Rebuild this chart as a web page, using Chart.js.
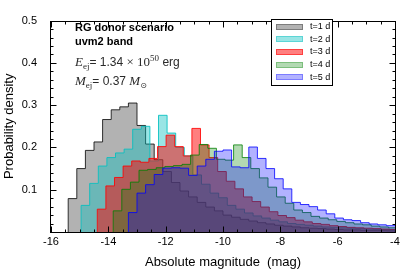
<!DOCTYPE html>
<html>
<head>
<meta charset="utf-8">
<script src="https://cdn.jsdelivr.net/npm/chart.js@4.4.1/dist/chart.umd.min.js"></script>
<style>
  html, body { margin: 0; padding: 0; background: #fff; }
</style>
</head>
<body>
<canvas id="myChart" width="408" height="274"></canvas>
<script>
// histogram data: each series has its own first bin edge, all bins 0.3 mag wide
const binWidth = 0.3;
const epochLabels = ['t=1 d', 't=2 d', 't=3 d', 't=4 d', 't=5 d'];
const binStarts = [-15.4, -14.95, -14.385, -13.83, -13.3];

const density1d = [0.079, 0.150, 0.193, 0.213, 0.266, 0.289, 0.296, 0.305, 0.252, 0.208,
  0.171, 0.143, 0.117, 0.097, 0.083, 0.070, 0.059, 0.050, 0.040, 0.035,
  0.030, 0.026, 0.022, 0.019, 0.016, 0.014, 0.012, 0.010, 0.009, 0.008,
  0.007, 0.006, 0.005, 0.005, 0.004, 0.004, 0.004, 0.003];
const density2d = [0.063, 0.115, 0.156, 0.176, 0.187, 0.196, 0.243, 0.250, 0.168, 0.276,
  0.234, 0.200, 0.180, 0.135, 0.113, 0.092, 0.081, 0.063, 0.054, 0.045,
  0.038, 0.033, 0.028, 0.024, 0.020, 0.018, 0.016, 0.014, 0.012, 0.011,
  0.010, 0.009, 0.008, 0.007, 0.006, 0.006, 0.005];
const density3d = [0.054, 0.109, 0.129, 0.156, 0.168, 0.165, 0.174, 0.202, 0.229, 0.202,
  0.180, 0.245, 0.206, 0.176, 0.143, 0.120, 0.102, 0.083, 0.072, 0.059,
  0.048, 0.039, 0.034, 0.028, 0.024, 0.020, 0.018, 0.015, 0.013, 0.011,
  0.010, 0.009, 0.008, 0.007, 0.006];
const density4d = [0.050, 0.101, 0.118, 0.146, 0.148, 0.152, 0.155, 0.157, 0.160, 0.182,
  0.207, 0.198, 0.172, 0.170, 0.206, 0.176, 0.150, 0.128, 0.106, 0.083,
  0.068, 0.052, 0.046, 0.037, 0.033, 0.029, 0.025, 0.022, 0.019, 0.017,
  0.014, 0.012, 0.010];
const density5d = [0.046, 0.092, 0.112, 0.136, 0.151, 0.152, 0.151, 0.134, 0.156, 0.172,
  0.191, 0.194, 0.154, 0.152, 0.201, 0.174, 0.150, 0.126, 0.102, 0.070,
  0.065, 0.060, 0.052, 0.043, 0.033, 0.029, 0.027, 0.022, 0.019, 0.017,
  0.015, 0.014];

const xTicks = [-16, -14, -12, -10, -8, -6, -4];
const yTicks = [0.1, 0.2, 0.3, 0.4, 0.5];
const xMinorStep = 0.5;
const yMinorStep = 0.02;

const scenarioLines = ['RG donor scenario', 'uvm2 band'];
const ejectaEnergy = '1.34';
const ejectaEnergyExp = '50';
const ejectaMass = '0.37';

const fillColors = ['rgba(0,0,0,0.3)', 'rgba(0,191,191,0.4)', 'rgba(255,0,0,0.5)', 'rgba(0,128,0,0.3)', 'rgba(0,0,255,0.3)'];
const edgeColors = ['rgba(0,0,0,0.8)', 'rgba(0,191,191,0.85)', 'rgba(255,0,0,0.85)', 'rgba(0,128,0,0.8)', 'rgba(0,0,255,0.8)'];

const sans = '"Liberation Sans", Arial, Helvetica, sans-serif';
const serif = '"Liberation Serif", "DejaVu Serif", serif';

function histPoints(start, values) {
  const pts = [{ x: start, y: 0 }];
  values.forEach((v, i) => pts.push({ x: start + i * binWidth, y: v }));
  pts.push({ x: start + values.length * binWidth, y: 0 });
  return pts;
}

const allDensities = [density1d, density2d, density3d, density4d, density5d];

const datasets = allDensities.map((vals, i) => ({
  label: epochLabels[i],
  data: histPoints(binStarts[i], vals),
  stepped: 'before',
  fill: 'origin',
  backgroundColor: fillColors[i],
  borderColor: edgeColors[i],
  borderWidth: 1,
  pointRadius: 0,
  tension: 0,
  order: allDensities.length - i,
}));

// box frame with inward major/minor ticks on all four sides
const frameTicks = {
  id: 'frameTicks',
  afterDatasetsDraw(chart) {
    const { ctx, chartArea: a, scales: { x, y } } = chart;
    const left = Math.round(a.left) - 0.5;
    const right = Math.round(a.right) + 0.5;
    const top = Math.round(a.top) + 0.5;
    const bottom = Math.round(a.bottom) + 0.5;
    ctx.save();
    ctx.strokeStyle = '#000';
    ctx.lineWidth = 1;
    ctx.beginPath();
    const nx = Math.round((x.max - x.min) / xMinorStep);
    for (let i = 0; i <= nx; i++) {
      const v = x.min + i * xMinorStep;
      const px = Math.round(x.getPixelForValue(v)) + 0.5;
      const len = xTicks.includes(v) ? 6 : 3;
      ctx.moveTo(px, bottom); ctx.lineTo(px, bottom - len);
      ctx.moveTo(px, top); ctx.lineTo(px, top + len);
    }
    const ny = Math.round((y.max - y.min) / yMinorStep);
    for (let i = 0; i <= ny; i++) {
      const v = y.min + i * yMinorStep;
      const py = Math.round(y.getPixelForValue(v)) + 0.5;
      const len = i % 5 === 0 ? 6 : 3;
      ctx.moveTo(left, py); ctx.lineTo(left + len, py);
      ctx.moveTo(right, py); ctx.lineTo(right - len, py);
    }
    ctx.stroke();
    ctx.strokeRect(left, top, right - left, bottom - top);
    ctx.restore();
  },
};

function drawRuns(ctx, x, y, runs) {
  runs.forEach((r) => {
    ctx.font = r.font;
    ctx.fillText(r.text, x, y + (r.dy || 0));
    x += ctx.measureText(r.text).width;
  });
}

// text block at upper left and boxed legend at upper right
const notes = {
  id: 'notes',
  afterDraw(chart) {
    const { ctx } = chart;
    ctx.save();
    ctx.textBaseline = 'alphabetic';
    ctx.textAlign = 'left';
    ctx.fillStyle = '#000';
    ctx.font = 'bold 11px ' + sans;
    ctx.fillText(scenarioLines[0], 75, 30.5);
    ctx.fillText(scenarioLines[1], 75, 44.5);

    ctx.fillStyle = '#2a2a2a';
    drawRuns(ctx, 75, 66, [
      { text: 'E', font: 'italic 13px ' + serif },
      { text: 'ej', font: '9px ' + serif, dy: 3 },
      { text: '= ' + ejectaEnergy + ' ', font: '12px ' + sans },
      { text: '\u00d7 10', font: '13px ' + serif },
      { text: ejectaEnergyExp, font: '9px ' + serif, dy: -5 },
      { text: ' erg', font: '12px ' + sans },
    ]);
    drawRuns(ctx, 75, 84.5, [
      { text: 'M', font: 'italic 13px ' + serif },
      { text: 'ej', font: '9px ' + serif, dy: 3 },
      { text: '= ' + ejectaMass + ' ', font: '12px ' + sans },
      { text: 'M', font: 'italic 13px ' + serif },
      { text: '\u2299', font: '8px "DejaVu Sans", sans-serif', dy: 3 },
    ]);

    // legend
    ctx.fillStyle = '#fff';
    ctx.fillRect(272, 19, 61, 67);
    ctx.strokeStyle = '#000';
    ctx.lineWidth = 1;
    ctx.strokeRect(271.5, 19.5, 61, 66);
    chart.data.datasets.forEach((ds, i) => {
      const cy = 26.5 + i * 12.7;
      ctx.fillStyle = ds.backgroundColor;
      ctx.fillRect(276, Math.round(cy - 3), 27, 6);
      ctx.strokeStyle = ds.backgroundColor;
      ctx.strokeRect(276.5, Math.round(cy - 3) + 0.5, 26, 5);
      ctx.fillStyle = '#000';
      ctx.font = '9px ' + sans;
      ctx.textBaseline = 'middle';
      ctx.fillText(ds.label, 310, cy);
    });
    ctx.restore();
  },
};

const config = {
  type: 'line',
  data: { datasets: datasets },
  options: {
    responsive: false,
    animation: false,
    devicePixelRatio: 1,
    layout: { padding: { top: 8, right: 13, left: 0, bottom: 0 } },
    plugins: {
      legend: { display: false },
      tooltip: { enabled: false },
    },
    scales: {
      x: {
        type: 'linear',
        min: -16,
        max: -4,
        afterBuildTicks: (s) => { s.ticks = xTicks.map((v) => ({ value: v })); },
        afterFit: (s) => { s.height = 42; },
        ticks: {
          color: '#000',
          font: { family: sans, size: 11 },
          padding: 3,
          maxRotation: 0,
          autoSkip: false,
          callback: (v) => String(v),
        },
        grid: { display: false, drawTicks: false },
        border: { display: false },
        title: {
          display: true,
          text: 'Absolute magnitude  (mag)',
          color: '#000',
          font: { family: sans, size: 13 },
          padding: { top: 0, bottom: 4 },
        },
      },
      y: {
        min: 0,
        max: 0.5,
        afterBuildTicks: (s) => { s.ticks = yTicks.map((v) => ({ value: v })); },
        afterFit: (s) => { s.width = 51; },
        ticks: {
          color: '#000',
          font: { family: sans, size: 11 },
          padding: 14,
          callback: (v) => v.toFixed(1),
        },
        grid: { display: false, drawTicks: false },
        border: { display: false },
        title: {
          display: true,
          text: 'Probability density',
          color: '#000',
          font: { family: sans, size: 13 },
          padding: { top: 2, bottom: 0 },
        },
      },
    },
  },
  plugins: [frameTicks, notes],
};

const ctx = document.getElementById('myChart').getContext('2d');
new Chart(ctx, config);
</script>
</body>
</html>
